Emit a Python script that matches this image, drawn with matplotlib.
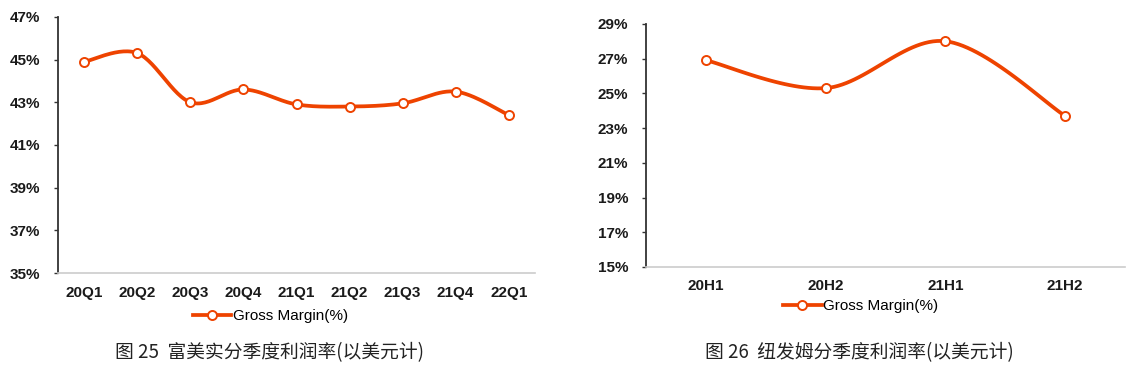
import numpy as np
import matplotlib
matplotlib.use("Agg")
from matplotlib import pyplot as plt

plt.rcParams['font.family'] = ['Liberation Sans', 'Noto Sans CJK SC', 'DejaVu Sans']

quarters = ["20Q1", "20Q2", "20Q3", "20Q4", "21Q1", "21Q2", "21Q3", "21Q4", "22Q1"]
fmc_margin = [44.9, 45.3, 43.0, 43.6, 42.9, 42.8, 42.95, 43.5, 42.4]

halves = ["20H1", "20H2", "21H1", "21H2"]
nufarm_margin = [26.9, 25.3, 28.0, 23.7]

line_color = "#EE4300"


def smooth(x, y, n=30):
    # excel-like smoothed line (catmull-rom bezier) between the points
    x = np.asarray(x, float)
    y = np.asarray(y, float)
    xs, ys = [], []
    for i in range(len(x) - 1):
        p0 = (x[i - 1], y[i - 1]) if i > 0 else (x[i], y[i])
        p1 = (x[i], y[i])
        p2 = (x[i + 1], y[i + 1])
        p3 = (x[i + 2], y[i + 2]) if i + 2 < len(x) else (x[i + 1], y[i + 1])
        c1 = (p1[0] + (p2[0] - p0[0]) / 6, p1[1] + (p2[1] - p0[1]) / 6)
        c2 = (p2[0] - (p3[0] - p1[0]) / 6, p2[1] - (p3[1] - p1[1]) / 6)
        t = np.linspace(0, 1, n)
        for a, b in ((xs, 0), (ys, 1)):
            a.extend((1 - t) ** 3 * p1[b] + 3 * (1 - t) ** 2 * t * c1[b]
                     + 3 * (1 - t) * t ** 2 * c2[b] + t ** 3 * p2[b])
    return xs, ys


def draw(ax, cats, vals, ymin, ymax, legend_x, legend_y):
    x = np.arange(len(cats))
    sx, sy = smooth(x, vals)
    ax.plot(sx, sy, color=line_color, lw=2.7, solid_capstyle='round')
    ax.plot(x, vals, ls='none', marker='o', ms=6.5, mfc='white', mec=line_color, mew=1.4)
    ax.plot([], [], color=line_color, lw=2.7, marker='o', ms=6.5, mfc='white',
            mec=line_color, mew=1.4, label="Gross Margin(%)")
    ax.set_xlim(-0.5, len(cats) - 0.5)
    ax.set_ylim(ymin, ymax)
    ax.set_yticks(np.arange(ymin, ymax + 1, 2))
    ax.set_yticklabels([f"{v}%" for v in range(ymin, ymax + 1, 2)])
    ax.set_xticks(x)
    ax.set_xticklabels(cats)
    for s in ("top", "right"):
        ax.spines[s].set_visible(False)
    ax.spines["left"].set_color("#333333")
    ax.spines["left"].set_linewidth(1.3)
    ax.spines["bottom"].set_color("#cccccc")
    ax.spines["bottom"].set_linewidth(1.2)
    ax.tick_params(axis='y', length=3, width=1, color="#333333", labelsize=11, pad=10)
    ax.tick_params(axis='x', length=0, labelsize=11, pad=9)
    for lab in ax.get_xticklabels() + ax.get_yticklabels():
        lab.set_color("#1a1a1a")
        lab.set_fontweight("bold")
    ax.legend(loc='upper center', bbox_to_anchor=(legend_x, legend_y), frameon=False,
              fontsize=11, handlelength=2.5, handletextpad=0.1, borderpad=0)


fig = plt.figure(figsize=(11.34, 3.67), dpi=100)

ax1 = fig.add_axes([0.051, 0.256, 0.421, 0.698])
draw(ax1, quarters, fmc_margin, 35, 47, 0.445, -0.11)

ax2 = fig.add_axes([0.570, 0.2725, 0.422, 0.6625])
draw(ax2, halves, nufarm_margin, 15, 29, 0.448, -0.10)

fig.text(0.238, 0.039, "图 25  富美实分季度利润率(以美元计)", ha='center', va='center',
         fontsize=13.5, color="#222222", family=['Noto Sans CJK SC', 'DejaVu Sans'])
fig.text(0.758, 0.039, "图 26  纽发姆分季度利润率(以美元计)", ha='center', va='center',
         fontsize=13.5, color="#222222", family=['Noto Sans CJK SC', 'DejaVu Sans'])

fig.savefig("out.png", dpi=100, facecolor='white')
